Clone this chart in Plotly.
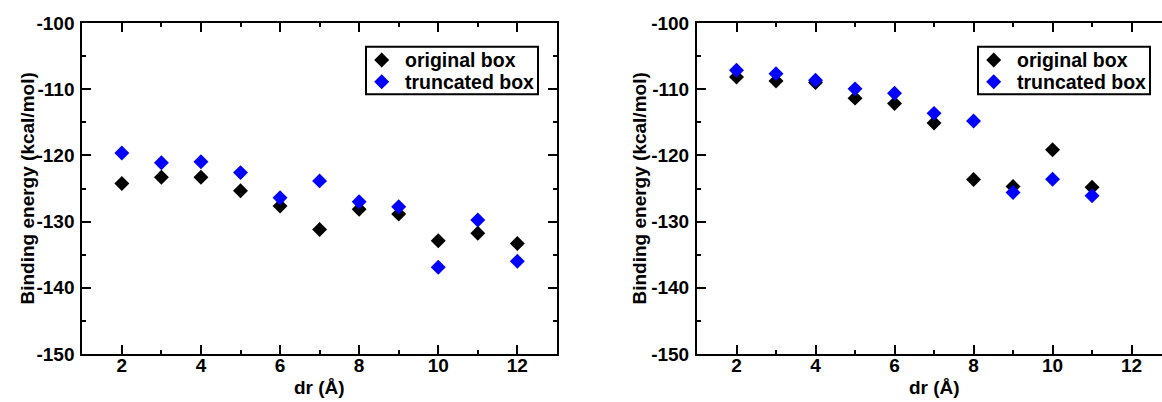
import plotly.graph_objects as go

# Binding energy vs. dr for two box setups, two systems
dr_left = [2, 3, 4, 5, 6, 7, 8, 9, 10, 11, 12]
orig_left = [-124.25, -123.3, -123.3, -125.35, -127.65, -131.2, -128.15, -128.85, -132.9, -131.75, -133.3]
trunc_left = [-119.65, -121.1, -120.95, -122.6, -126.4, -123.85, -127.0, -127.75, -136.9, -129.75, -136.0]

dr_right = [2, 3, 4, 5, 6, 7, 8, 9, 10, 11]
orig_right = [-108.15, -108.75, -109.0, -111.35, -112.15, -115.1, -123.65, -124.7, -119.15, -124.8]
trunc_right = [-107.15, -107.65, -108.65, -109.95, -110.6, -113.65, -114.8, -125.6, -123.6, -126.1]

y_tickvals = [-150, -140, -130, -120, -110, -100]
y_ticktext = ["-150", "-140", "-130", "-120", "-110", "-100"]
series_names = ["original box", "truncated box"]

FONT = "Liberation Sans"
BLACK = "#000000"
BLUE = "#0000ff"
COLORS = [BLACK, BLUE]
MSIZE = 11.5

W, H = 1162, 402
MT, MB = 23, 48
PH = H - MT - MB

fig = go.Figure()


def add_pair(x, y_orig, y_trunc, xa, ya):
    for name, ys, col in zip(series_names, [y_orig, y_trunc], COLORS):
        fig.add_trace(go.Scatter(
            x=x, y=ys, mode="markers", name=name, showlegend=False,
            marker=dict(symbol="diamond", size=MSIZE, color=col, line=dict(width=0)),
            xaxis=xa, yaxis=ya))


add_pair(dr_left, orig_left, trunc_left, "x", "y")
add_pair(dr_right, orig_right, trunc_right, "x2", "y2")

tickfont = dict(family=FONT, size=19, color=BLACK, weight="bold")

xcommon = dict(
    tickmode="linear", tick0=2, dtick=2, ticks="inside", ticklen=9, tickwidth=2,
    tickcolor=BLACK, showline=True, linewidth=2, linecolor=BLACK,
    showgrid=False, zeroline=False, tickfont=tickfont, ticklabelstandoff=-7,
    minor=dict(dtick=1, ticks="inside", ticklen=4, tickwidth=2, tickcolor=BLACK, showgrid=False),
)
ycommon = dict(
    range=[-150, -100], tickmode="array", tickvals=y_tickvals, ticktext=y_ticktext,
    ticks="inside", ticklen=9, tickwidth=2, tickcolor=BLACK, showline=True, linewidth=2,
    linecolor=BLACK, showgrid=False, zeroline=False, tickfont=tickfont,
    ticklabelstandoff=2,
    minor=dict(dtick=5, tick0=-150, ticks="inside", ticklen=4, tickwidth=2, tickcolor=BLACK,
               showgrid=False),
)

fig.update_layout(
    width=W, height=H,
    margin=dict(l=0, r=0, t=MT, b=MB),
    plot_bgcolor="white", paper_bgcolor="white",
    xaxis=dict(domain=[82.3 / W, 556.9 / W], range=[1, 13], anchor="y", mirror="ticks", **xcommon),
    yaxis=dict(domain=[0, 1], anchor="x", mirror="ticks", **ycommon),
    xaxis2=dict(domain=[697.0 / W, 1.0], range=[1, 12.77], anchor="y2", mirror="ticks", **xcommon),
    yaxis2=dict(domain=[0, 1], anchor="x2", mirror=False, **ycommon),
    showlegend=False,
)


def px_x(px):
    return px / W


def px_y(py):
    # pixel row (from top of page) -> paper y
    return (H - MB - py) / PH


titlefont = dict(family=FONT, size=19, color=BLACK, weight="bold")
legfont = dict(family=FONT, size=19.5, color=BLACK, weight="bold")
annotations = [
    dict(text="dr (Å)", xref="x", yref="paper", x=7, y=0, yshift=-33,
         xanchor="center", yanchor="middle", showarrow=False, font=titlefont),
    dict(text="dr (Å)", xref="x2", yref="paper", x=7, y=0, yshift=-33,
         xanchor="center", yanchor="middle", showarrow=False, font=titlefont),
    dict(text="Binding energy (kcal/mol)", xref="paper", yref="paper", x=27 / W, y=0.5,
         xanchor="center", yanchor="middle", textangle=-90, showarrow=False, font=titlefont),
    dict(text="Binding energy (kcal/mol)", xref="paper", yref="paper", x=639 / W, y=0.5,
         xanchor="center", yanchor="middle", textangle=-90, showarrow=False, font=titlefont),
]
shapes = []

# Framed legend inside each panel (top-right corner)
for box_left in (366.0, 978.0):
    box_right = box_left + 172.0
    top, bottom = 46.7, 94.3
    shapes.append(dict(type="rect", xref="paper", yref="paper",
                       x0=px_x(box_left), x1=px_x(box_right),
                       y0=px_y(bottom), y1=px_y(top),
                       line=dict(color=BLACK, width=2), fillcolor="white", layer="above"))
    for row_y, name, col in zip((60.0, 81.7), series_names, COLORS):
        shapes.append(dict(type="path", xref="paper", yref="paper",
                           xsizemode="pixel", ysizemode="pixel",
                           xanchor=px_x(box_left + 15.7), yanchor=px_y(row_y),
                           path="M 0 7.5 L 7.5 0 L 0 -7.5 L -7.5 0 Z",
                           fillcolor=col, line=dict(width=0), layer="above"))
        annotations.append(dict(text=name, xref="paper", yref="paper",
                                x=px_x(box_left + 36.5), y=px_y(row_y),
                                xanchor="left", yanchor="middle", showarrow=False,
                                font=legfont))

fig.update_layout(annotations=annotations, shapes=shapes)

fig.write_html("out.html")
